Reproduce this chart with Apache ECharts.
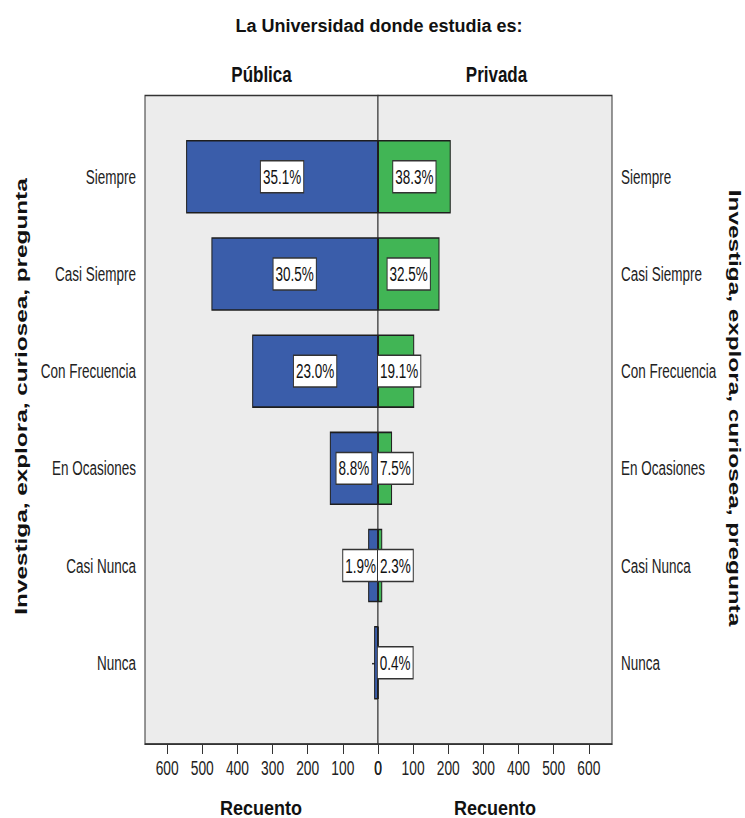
<!DOCTYPE html>
<html>
<head>
<meta charset="utf-8">
<script src="https://cdn.jsdelivr.net/npm/echarts@6/dist/echarts.min.js"></script>
<style>
html, body { margin: 0; padding: 0; background: #fff; overflow: hidden; width: 745px; height: 818px; }
#chart { position: absolute; left: 0; top: 0; width: 745px; height: 538px; transform: scaleY(1.52045); transform-origin: 0 0; }
</style>
</head>
<body>
<div id="chart"></div>
<script>
// ---- data ----
const categories = ['Siempre', 'Casi Siempre', 'Con Frecuencia', 'En Ocasiones', 'Casi Nunca', 'Nunca'];
const publica = [546, 474, 358, 137, 28, 11];
const privada = [207, 175, 103, 40, 12, 2];
const pctPublica = ['35.1', '30.5', '23.0', '8.8', '1.9', null];
const pctPrivada = ['38.3', '32.5', '19.1', '7.5', '2.3', '0.4'];
const countTicks = [0, 100, 200, 300, 400, 500, 600];

// ---- layout (reference pixels; chart is drawn flattened and stretched vertically by CSS) ----
const S = 818 / 538;
const u = y => y / S;
const FONT = '"Liberation Sans", Arial, sans-serif';
const LEFT_MAX = 663, RIGHT_MAX = 666;
const LEFT_X = 145, MID_X = 378, RIGHT_X = 612;
const LEFT_W = MID_X - LEFT_X, RIGHT_W = RIGHT_X - MID_X;
const BLUE = '#3a5daa', GREEN = '#41b555';

const labelStyle = {
  backgroundColor: '#ffffff',
  borderColor: '#333333',
  borderWidth: 1,
  padding: [2, 2, 2, 2],
  fontSize: 13.5,
  lineHeight: 16,
  fontFamily: FONT,
  color: '#111111',
  distance: 0
};

function items(vals, pcts, pxPerUnit, smallPos) {
  return vals.map((v, i) => {
    if (pcts[i] == null) {
      return { value: v, label: { show: false } };
    }
    return {
      value: v,
      label: Object.assign({}, labelStyle, {
        show: true,
        formatter: pcts[i] + '%',
        position: (v * pxPerUnit < 45) ? smallPos : 'inside'
      })
    };
  });
}

const frameAxis = (grid, max, inverse) => ({
  gridIndex: grid, type: 'value', min: 0, max: max, inverse: inverse,
  axisLine: { show: true, lineStyle: { color: '#333', width: 1 } },
  axisTick: { show: true, length: u(10), lineStyle: { color: '#333' }, customValues: countTicks },
  axisLabel: { customValues: countTicks, fontSize: 13.8, fontFamily: FONT, color: '#222', margin: 9,
               formatter: v => (v % 100 === 0 ? String(v) : '') },
  splitLine: { show: false }
});

const catAxis = (grid, pos) => ({
  gridIndex: grid, type: 'category', data: categories, inverse: true, position: pos,
  axisLine: { show: false },
  axisTick: { show: true, alignWithLabel: true, length: 6, lineStyle: { color: '#333' } },
  axisLabel: { margin: 9, fontSize: 13.5, fontFamily: FONT, color: '#222' },
  splitLine: { show: false }
});

const frameTop = u(95.5), frameBot = u(744);
const barTop = u(128.1), barBot = u(711.4);

const option = {
  animation: false,
  grid: [
    { left: LEFT_X, width: LEFT_W, top: frameTop, height: frameBot - frameTop, show: true,
      backgroundColor: '#ececec', borderColor: '#333333', borderWidth: 1 },
    { left: MID_X, width: RIGHT_W, top: frameTop, height: frameBot - frameTop, show: true,
      backgroundColor: '#ececec', borderColor: '#333333', borderWidth: 1 },
    { left: LEFT_X, width: LEFT_W, top: barTop, height: barBot - barTop },
    { left: MID_X, width: RIGHT_W, top: barTop, height: barBot - barTop }
  ],
  xAxis: [
    frameAxis(0, LEFT_MAX, true),
    frameAxis(1, RIGHT_MAX, false),
    { gridIndex: 2, type: 'value', min: 0, max: LEFT_MAX, inverse: true, show: false },
    { gridIndex: 3, type: 'value', min: 0, max: RIGHT_MAX, show: false }
  ],
  yAxis: [
    { gridIndex: 0, type: 'value', min: 0, max: 1, show: false },
    { gridIndex: 1, type: 'value', min: 0, max: 1, show: false },
    catAxis(2, 'left'),
    catAxis(3, 'right')
  ],
  series: [
    {
      name: 'Pública', type: 'bar', xAxisIndex: 2, yAxisIndex: 2,
      barWidth: u(73.5),
      data: items(publica, pctPublica, LEFT_W / LEFT_MAX, 'insideRight'),
      itemStyle: { color: BLUE, borderColor: '#1e1e1e', borderWidth: 1 },
      label: { show: false }
    },
    {
      name: 'Privada', type: 'bar', xAxisIndex: 3, yAxisIndex: 3,
      barWidth: u(73.5),
      data: items(privada, pctPrivada, RIGHT_W / RIGHT_MAX, 'insideLeft'),
      itemStyle: { color: GREEN, borderColor: '#1e1e1e', borderWidth: 1 },
      label: { show: false }
    }
  ],
  graphic: [
    { type: 'text', x: 379, y: u(26), scaleY: 1 / S,
      style: { text: 'La Universidad donde estudia es:', fontSize: 18, fontWeight: 'bold', fontFamily: FONT,
               fill: '#111', align: 'center', verticalAlign: 'middle' } },
    { type: 'text', x: 261.5, y: u(74), scaleY: 1.3 / S,
      style: { text: 'Pública', fontSize: 17, fontWeight: 'bold', fontFamily: FONT,
               fill: '#111', align: 'center', verticalAlign: 'middle' } },
    { type: 'text', x: 496.5, y: u(74), scaleY: 1.3 / S,
      style: { text: 'Privada', fontSize: 17, fontWeight: 'bold', fontFamily: FONT,
               fill: '#111', align: 'center', verticalAlign: 'middle' } },
    { type: 'text', x: 261, y: u(807), scaleY: 1.16 / S,
      style: { text: 'Recuento', fontSize: 18, fontWeight: 'bold', fontFamily: FONT,
               fill: '#111', align: 'center', verticalAlign: 'middle' } },
    { type: 'text', x: 495, y: u(807), scaleY: 1.16 / S,
      style: { text: 'Recuento', fontSize: 18, fontWeight: 'bold', fontFamily: FONT,
               fill: '#111', align: 'center', verticalAlign: 'middle' } },
    { type: 'text', x: 21, y: u(396.5), rotation: Math.PI / 2,
      style: { text: 'Investiga, explora, curiosea, pregunta', fontSize: 16, fontWeight: 'bold', fontFamily: FONT,
               fill: '#111', align: 'center', verticalAlign: 'middle' } },
    { type: 'text', x: 735, y: u(408), rotation: -Math.PI / 2,
      style: { text: 'Investiga, explora, curiosea, pregunta', fontSize: 16, fontWeight: 'bold', fontFamily: FONT,
               fill: '#111', align: 'center', verticalAlign: 'middle' } }
  ]
};

const chart = echarts.init(document.getElementById('chart'), null, { renderer: 'svg' });
chart.setOption(option);
</script>
</body>
</html>
